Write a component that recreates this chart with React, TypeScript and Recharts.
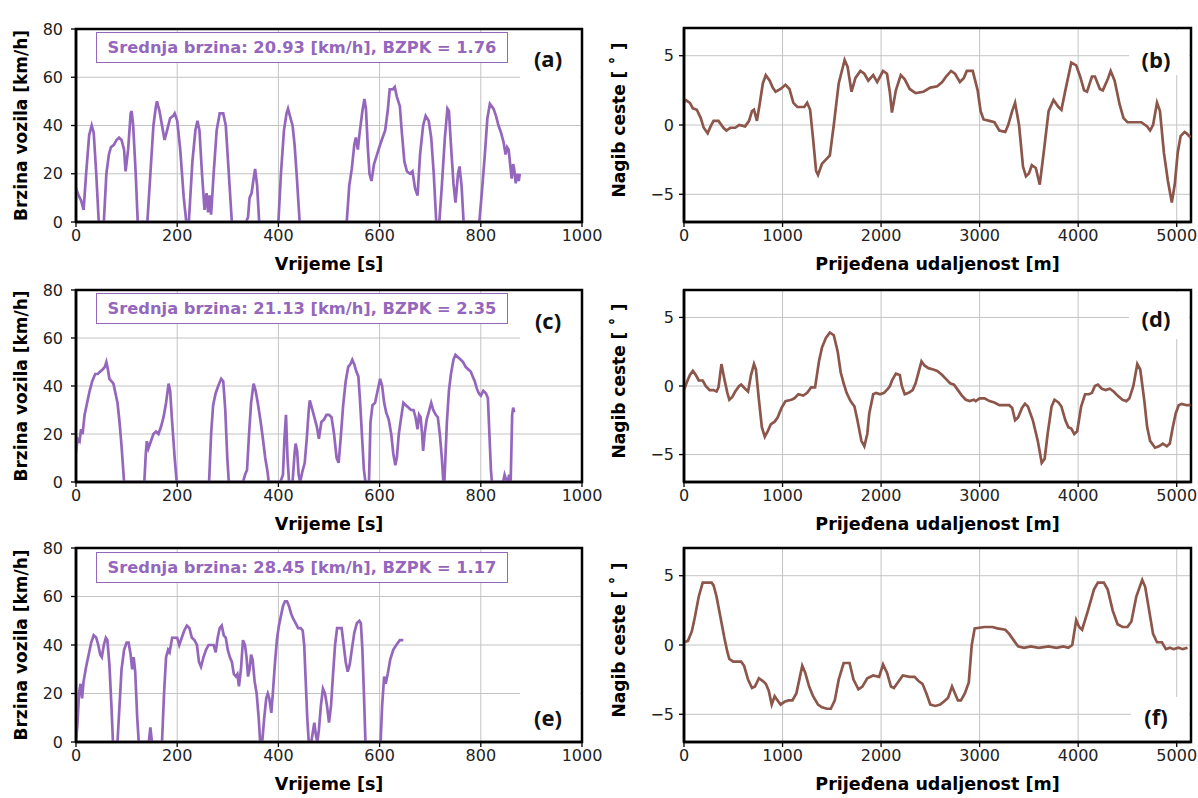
import React from 'react';
import { LineChart, Line, XAxis, YAxis, CartesianGrid, ReferenceArea } from 'recharts';

// ---------- (a) speed ----------
const timeA = [0,5,10,15,20,26,31,35,40,45,55,60,65,69,75,80,85,90,95,98,103,108,110,113,118,122,141,147,153,158,160,165,170,175,180,186,192,195,200,206,213,218,223,230,236,240,244,249,254,258,261,264,267,272,278,284,291,296,302,308,336,340,343,347,351,354,358,362,400,405,411,416,419,424,428,432,436,442,535,540,545,550,553,557,560,566,570,573,577,580,584,589,595,601,606,611,616,620,626,630,634,640,644,649,654,660,665,670,675,680,686,691,697,702,707,712,718,723,729,734,737,741,746,750,755,758,762,766,797,802,808,813,818,825,830,835,840,845,849,852,855,858,861,864,866,869,872,875,877];
const speedA = [14,11,9,5,20,36,40,37,20,0,0,20,28,31,32,34,35,34,30,21,30,45,46,40,20,0,0,20,40,48,50,46,40,34,38,43,44,45,42,30,10,0,0,25,38,42,38,20,5,12,4,11,3,20,38,45,45,40,20,0,0,2,10,12,18,22,15,0,0,20,38,45,47,43,40,32,20,0,0,15,22,32,35,30,36,46,51,47,30,20,17,24,28,32,35,38,46,55,55,56,52,48,37,25,21,20,21,14,11,28,40,44,42,35,20,0,0,15,35,47,46,32,16,8,20,23,15,0,0,12,28,43,49,47,44,40,37,33,28,31,30,24,18,24,22,16,20,17,20];

// ---------- (c) speed ----------
const timeC = [0,3,7,10,13,17,22,27,32,38,43,48,53,57,60,63,66,70,74,78,82,86,90,95,135,138,140,143,148,153,158,163,168,173,178,183,186,190,195,199,263,267,271,276,281,287,291,295,299,302,330,334,338,342,346,351,355,360,365,370,374,378,381,404,409,412,415,418,421,428,432,434,437,440,443,447,452,456,460,462,466,471,476,480,485,490,495,500,505,510,515,519,523,528,533,538,542,546,550,554,558,561,565,569,572,579,582,586,591,596,601,605,609,613,618,623,627,631,634,638,642,647,652,657,662,667,671,675,678,681,684,686,689,693,697,702,706,711,715,719,723,726,728,733,737,741,746,750,755,760,765,770,775,780,784,788,792,796,800,805,810,814,817,820,822,844,847,850,853,856,859,862,864,866];
const speedC = [12,18,17,22,20,28,33,38,42,45,45,46,47,48,50,47,43,42,41,37,33,25,15,0,0,12,17,14,17,20,21,20,23,27,33,41,38,25,10,0,0,20,32,37,40,43,42,30,10,0,0,3,5,20,33,41,38,32,25,17,10,5,0,0,3,18,28,10,0,0,12,16,13,3,0,4,8,18,30,34,31,27,23,18,25,26,28,28,27,20,10,8,18,32,42,48,49,51,49,46,44,35,20,5,0,0,25,32,33,38,43,40,33,29,26,20,12,7,10,20,26,33,32,31,30,30,27,22,28,27,20,13,20,26,29,33,30,28,27,20,10,0,0,25,38,45,51,53,52,51,50,48,47,46,44,42,39,37,36,38,37,35,20,5,0,0,3,1,0,3,0,28,31,29];

// ---------- (e) speed ----------
const timeE = [0,3,6,9,12,15,20,25,30,35,40,44,48,51,55,59,62,66,70,73,82,86,90,95,100,104,108,111,114,117,121,124,144,147,150,170,174,178,182,185,190,195,200,204,209,214,219,224,229,234,239,243,247,252,257,262,267,272,276,280,284,288,292,296,300,304,308,312,316,319,322,326,330,334,337,340,343,346,349,353,357,361,364,368,372,376,379,382,386,389,393,397,401,405,409,413,417,421,425,429,434,439,444,448,451,454,457,460,465,468,471,474,477,480,484,488,492,496,500,504,508,512,516,520,525,529,533,537,541,545,550,555,560,563,566,569,572,602,605,609,612,616,621,627,633,640,647];
const speedE = [0,8,20,24,18,25,31,36,41,44,43,40,36,35,40,43,42,32,15,0,0,15,30,38,41,41,36,30,35,29,10,0,0,6,0,0,20,35,38,37,43,43,43,40,43,46,48,47,43,42,40,33,31,35,38,40,40,40,37,43,47,48,44,43,38,35,33,28,27,28,23,30,42,40,35,27,30,36,34,25,20,10,0,0,10,18,20,18,12,20,32,42,48,52,56,58,58,56,53,51,49,47,47,46,40,25,10,0,0,4,8,3,0,5,15,22,20,15,8,15,28,40,47,47,47,40,33,29,32,38,45,49,50,49,38,20,0,0,15,27,24,28,34,38,40,42,42];

// ---------- (b) slope ----------
const distB = [0,20,60,90,130,170,200,240,270,300,350,400,430,470,520,560,620,660,690,710,740,770,800,830,870,900,930,980,1030,1070,1110,1150,1220,1250,1280,1310,1340,1360,1400,1440,1480,1520,1570,1630,1660,1700,1740,1790,1830,1870,1920,1960,1990,2020,2060,2090,2110,2150,2200,2240,2290,2350,2430,2500,2570,2620,2660,2710,2750,2800,2840,2870,2930,2980,3010,3040,3100,3150,3200,3260,3290,3330,3360,3400,3440,3470,3500,3530,3570,3610,3650,3700,3750,3800,3830,3870,3930,3980,4020,4060,4090,4140,4170,4220,4250,4300,4330,4370,4420,4460,4500,4640,4700,4730,4760,4800,4830,4870,4910,4950,4980,5010,5040,5080,5100,5140];
const slopeB = [1.6,1.8,1.6,1.2,1.1,0.5,-0.2,-0.6,-0.1,0.3,0.3,-0.2,-0.4,-0.2,-0.2,0.0,-0.1,0.3,1.0,1.1,0.3,1.6,3.0,3.6,3.2,2.7,2.4,2.6,2.9,2.6,1.6,1.3,1.3,1.6,1.1,-1.0,-3.3,-3.6,-2.8,-2.5,-2.2,0.0,3.0,4.7,4.2,2.4,3.4,3.9,3.7,3.2,3.6,3.1,3.5,3.9,3.7,2.3,0.9,2.5,3.6,3.3,2.6,2.3,2.4,2.7,2.8,3.1,3.5,3.9,3.7,3.1,3.4,3.9,3.9,2.5,1.0,0.4,0.3,0.2,-0.4,-0.5,0.0,1.0,1.6,0.0,-3.0,-3.7,-3.5,-2.9,-3.1,-4.3,-2.0,1.0,1.8,1.3,1.1,2.5,4.5,4.3,3.5,2.5,2.4,3.5,3.5,2.6,2.5,3.3,3.9,3.2,1.5,0.5,0.2,0.2,-0.1,-0.4,0.0,1.6,1.0,-2.0,-4.0,-5.6,-4.3,-2.0,-0.8,-0.5,-0.6,-0.9];

// ---------- (d) slope ----------
const distD = [0,30,60,90,120,150,190,220,260,300,330,350,380,410,440,460,490,520,560,580,620,650,680,710,730,760,790,820,850,880,920,950,990,1030,1090,1120,1160,1210,1250,1290,1330,1370,1400,1440,1480,1520,1560,1590,1620,1650,1690,1730,1760,1800,1830,1860,1880,1920,1950,1990,2030,2070,2090,2110,2150,2190,2210,2240,2280,2320,2350,2380,2410,2440,2480,2530,2570,2620,2660,2700,2740,2780,2820,2860,2900,2940,2960,3000,3050,3100,3150,3200,3250,3300,3330,3360,3390,3430,3460,3490,3540,3590,3630,3660,3690,3730,3760,3800,3830,3870,3900,3930,3960,3990,4030,4070,4110,4140,4170,4200,4240,4280,4320,4360,4400,4450,4490,4520,4560,4600,4630,4670,4700,4730,4780,4820,4860,4900,4930,4960,4990,5020,5050,5100,5140];
const slopeD = [-0.3,0.3,0.8,1.1,0.8,0.4,0.4,0.0,-0.3,-0.3,-0.4,-0.1,1.6,0.5,-0.5,-1.0,-0.8,-0.4,0.0,0.1,-0.2,-0.4,0.8,1.6,1.2,-1.0,-3.0,-3.7,-3.3,-2.8,-2.6,-2.3,-1.6,-1.1,-1.0,-0.9,-0.6,-0.7,-0.5,-0.1,-0.1,1.8,2.8,3.5,3.9,3.7,2.5,1.0,0.2,-0.5,-1.1,-1.5,-2.5,-4.0,-4.4,-3.5,-2.0,-0.6,-0.5,-0.6,-0.5,-0.2,0.0,0.4,0.9,0.8,0.0,-0.6,-0.5,-0.3,0.2,1.0,1.8,1.5,1.3,1.2,1.1,0.8,0.5,0.2,0.1,-0.3,-0.7,-1.0,-1.1,-1.0,-1.1,-0.9,-0.9,-1.1,-1.2,-1.4,-1.4,-1.4,-1.6,-2.5,-2.3,-1.6,-1.3,-1.5,-2.5,-4.0,-5.6,-5.3,-3.5,-1.5,-1.0,-1.2,-1.5,-2.5,-3.0,-3.1,-3.5,-3.3,-1.5,-0.6,-0.6,-0.5,0.0,0.1,-0.2,-0.3,-0.2,-0.4,-0.7,-1.0,-1.1,-0.9,0.0,1.6,1.2,-1.0,-3.0,-4.0,-4.5,-4.4,-4.2,-4.4,-4.2,-3.0,-2.0,-1.4,-1.3,-1.4,-1.4];

// ---------- (f) slope ----------
const distF = [0,40,80,110,150,190,280,300,330,370,410,440,460,500,580,610,650,690,720,760,800,830,860,890,920,950,980,1020,1060,1100,1140,1170,1200,1230,1270,1310,1360,1400,1450,1490,1530,1570,1620,1680,1720,1770,1810,1860,1920,1980,2020,2060,2100,2130,2170,2220,2290,2340,2380,2420,2460,2500,2550,2600,2650,2680,2720,2750,2780,2810,2850,2890,2920,2950,3050,3130,3180,3260,3300,3350,3390,3450,3520,3600,3700,3780,3850,3900,3940,3980,4010,4040,4100,4160,4200,4260,4300,4350,4400,4450,4500,4540,4590,4650,4680,4720,4760,4800,4850,4890,4930,4970,5020,5060,5110];
const slopeF = [0.2,0.3,1.0,2.0,3.5,4.5,4.5,4.3,3.5,2.0,0.5,-0.5,-1.0,-1.2,-1.2,-1.5,-2.5,-3.1,-3.0,-2.4,-2.6,-2.8,-3.3,-4.3,-3.7,-4.0,-4.3,-4.1,-4.0,-4.0,-3.5,-2.5,-1.5,-2.0,-3.0,-3.7,-4.3,-4.5,-4.6,-4.6,-4.0,-2.5,-1.3,-1.3,-2.5,-3.2,-3.0,-2.4,-2.2,-2.3,-1.4,-2.0,-3.0,-3.1,-2.7,-2.2,-2.3,-2.3,-2.6,-2.8,-3.5,-4.3,-4.4,-4.3,-4.0,-3.8,-3.0,-3.5,-4.0,-4.0,-3.5,-2.7,0.0,1.2,1.3,1.3,1.2,1.1,0.8,0.3,-0.1,-0.2,-0.1,-0.2,-0.1,-0.2,-0.1,-0.2,0.0,1.8,1.3,1.1,2.5,4.0,4.5,4.5,4.0,2.5,1.5,1.3,1.3,1.7,3.5,4.7,4.2,2.5,0.8,0.2,0.2,-0.3,-0.2,-0.3,-0.2,-0.3,-0.2];

// ---------- axes / texts ----------
const speedXTicks = [0, 200, 400, 600, 800, 1000];
const speedYTicks = [0, 20, 40, 60, 80];
const slopeXTicks = [0, 1000, 2000, 3000, 4000, 5000];
const slopeYTicks = [-5, 0, 5];
const speedXTitle = 'Vrijeme [s]';
const speedYTitle = 'Brzina vozila [km/h]';
const slopeXTitle = 'Prijeđena udaljenost [m]';
const slopeYTitle = 'Nagib ceste [ ˚ ]';
const infoA = 'Srednja brzina: 20.93 [km/h], BZPK = 1.76';
const infoC = 'Srednja brzina: 21.13 [km/h], BZPK = 2.35';
const infoE = 'Srednja brzina: 28.45 [km/h], BZPK = 1.17';

const PURPLE = '#9467bd';
const BROWN = '#8c564b';
const FONT = '"DejaVu Sans", sans-serif';

interface PanelProps {
  left: number;
  plotTop: number;
  plotH: number;
  width: number;
  yAxisW: number;
  rightM: number;
  xs: number[];
  ys: number[];
  color: string;
  xDomain: [number, number];
  xTicks: number[];
  yDomain: [number, number];
  yTicks: number[];
  xTitle: string;
  yTitle: string;
  yTitleX: number;
  yTitleDy: number;
  yTickMargin: number;
}

const fmt = (v: number) => (v < 0 ? '\u2212' + Math.abs(v) : String(v));

function Panel(p: PanelProps) {
  const data = p.xs.map((x, i) => ({ x, y: p.ys[i] }));
  const h = 10 + p.plotH + 55;
  const plotW = p.width - p.yAxisW - p.rightM;
  const tickStyle = { fontSize: 16, fill: '#222', fontFamily: FONT };
  const xTitleEl = () => (
    <text x={p.yAxisW + plotW / 2} y={10 + p.plotH + 48} textAnchor="middle" fontFamily={FONT} fontWeight={700} fontSize={17.5} fill="#000">
      {p.xTitle}
    </text>
  );
  const cy = 10 + p.plotH / 2 + p.yTitleDy;
  const yTitleEl = () => (
    <text x={p.yTitleX} y={cy} transform={`rotate(-90 ${p.yTitleX} ${cy})`} textAnchor="middle" fontFamily={FONT} fontWeight={700} fontSize={17} fill="#000">
      {p.yTitle}
    </text>
  );
  return (
    <div style={{ position: 'absolute', left: p.left, top: p.plotTop - 10 }}>
      <LineChart width={p.width} height={h} data={data} margin={{ top: 10, right: p.rightM, bottom: 0, left: 0 }}>
        <CartesianGrid stroke="#c4c4c4" strokeWidth={1} />
        <XAxis
          dataKey="x"
          type="number"
          domain={p.xDomain}
          ticks={p.xTicks}
          interval={0}
          allowDataOverflow
          height={55}
          tick={tickStyle}
          tickLine={{ stroke: '#000', strokeWidth: 1.3 }}
          tickSize={5}
          tickMargin={3}
          axisLine={{ stroke: '#000', strokeWidth: 2.5 }}
          tickFormatter={fmt}
          label={xTitleEl}
        />
        <YAxis
          type="number"
          domain={p.yDomain}
          ticks={p.yTicks}
          interval={0}
          allowDataOverflow
          width={p.yAxisW}
          tick={tickStyle}
          tickLine={{ stroke: '#000', strokeWidth: 1.3 }}
          tickSize={5}
          tickMargin={p.yTickMargin}
          axisLine={{ stroke: '#000', strokeWidth: 2.5 }}
          tickFormatter={fmt}
          label={yTitleEl}
        />
        <Line type="linear" dataKey="y" stroke={p.color} strokeWidth={2.7} dot={false} isAnimationActive={false} />
        <ReferenceArea x1={p.xDomain[0]} x2={p.xDomain[1]} y1={p.yDomain[0]} y2={p.yDomain[1]} fill="none" fillOpacity={0} stroke="#000" strokeWidth={2.5} />
      </LineChart>
    </div>
  );
}

const WhiteBox = ({ l, t, w, h }: { l: number; t: number; w: number; h: number }) => (
  <div style={{ position: 'absolute', left: l, top: t, width: w, height: h, background: '#fff' }} />
);

const Letter = ({ text, cx, cy }: { text: string; cx: number; cy: number }) => (
  <div
    style={{
      position: 'absolute',
      left: cx,
      top: cy,
      transform: 'translate(-50%, -50%)',
      fontFamily: '"Open Sans", sans-serif',
      fontWeight: 700,
      fontSize: 22,
      lineHeight: 1,
      color: '#111',
      whiteSpace: 'nowrap',
    }}
  >
    {text}
  </div>
);

const InfoBox = ({ text, top }: { text: string; top: number }) => (
  <div
    style={{
      position: 'absolute',
      left: 96,
      top,
      width: 412,
      height: 31,
      boxSizing: 'border-box',
      border: `1.5px solid ${PURPLE}`,
      background: '#fff',
      display: 'flex',
      alignItems: 'center',
      justifyContent: 'center',
      fontFamily: FONT,
      fontWeight: 700,
      fontSize: 16.3,
      color: PURPLE,
      whiteSpace: 'nowrap',
    }}
  >
    {text}
  </div>
);

const leftCol = { left: 0, width: 620, yAxisW: 76, rightM: 38, yTitleX: 27, yTitleDy: 0, yTickMargin: 8 };
const rightCol = { left: 600, width: 598, yAxisW: 84, rightM: 7, yTitleX: 25, yTitleDy: -5, yTickMargin: 5 };

export default function App() {
  return (
    <div style={{ position: 'absolute', left: 0, top: 0, width: 1198, height: 798, background: '#fff', overflow: 'hidden' }}>
      <Panel {...leftCol} plotTop={29} plotH={193} xs={timeA} ys={speedA} color={PURPLE} xDomain={[0, 1000]} xTicks={speedXTicks} yDomain={[0, 80]} yTicks={speedYTicks} xTitle={speedXTitle} yTitle={speedYTitle} />
      <Panel {...leftCol} plotTop={290} plotH={192} xs={timeC} ys={speedC} color={PURPLE} xDomain={[0, 1000]} xTicks={speedXTicks} yDomain={[0, 80]} yTicks={speedYTicks} xTitle={speedXTitle} yTitle={speedYTitle} />
      <Panel {...leftCol} plotTop={548} plotH={194} xs={timeE} ys={speedE} color={PURPLE} xDomain={[0, 1000]} xTicks={speedXTicks} yDomain={[0, 80]} yTicks={speedYTicks} xTitle={speedXTitle} yTitle={speedYTitle} />
      <Panel {...rightCol} plotTop={28} plotH={194} xs={distB} ys={slopeB} color={BROWN} xDomain={[0, 5145]} xTicks={slopeXTicks} yDomain={[-7, 7]} yTicks={slopeYTicks} xTitle={slopeXTitle} yTitle={slopeYTitle} />
      <Panel {...rightCol} plotTop={290} plotH={192} xs={distD} ys={slopeD} color={BROWN} xDomain={[0, 5145]} xTicks={slopeXTicks} yDomain={[-7, 7]} yTicks={slopeYTicks} xTitle={slopeXTitle} yTitle={slopeYTitle} />
      <Panel {...rightCol} plotTop={548} plotH={194} xs={distF} ys={slopeF} color={BROWN} xDomain={[0, 5145]} xTicks={slopeXTicks} yDomain={[-7, 7]} yTicks={slopeYTicks} xTitle={slopeXTitle} yTitle={slopeYTitle} />

      <WhiteBox l={520} t={31} w={60} h={62} />
      <WhiteBox l={1129} t={30} w={60} h={45} />
      <WhiteBox l={520} t={292} w={60} h={58} />
      <WhiteBox l={1129} t={292} w={60} h={47} />
      <WhiteBox l={520} t={672} w={60} h={68} />
      <WhiteBox l={1131} t={697} w={58} h={43} />

      <InfoBox text={infoA} top={32} />
      <InfoBox text={infoC} top={293} />
      <InfoBox text={infoE} top={552} />

      <Letter text="(a)" cx={548} cy={58} />
      <Letter text="(b)" cx={1156} cy={59} />
      <Letter text="(c)" cx={548} cy={320} />
      <Letter text="(d)" cx={1156} cy={318} />
      <Letter text="(e)" cx={548} cy={717} />
      <Letter text="(f)" cx={1156} cy={716} />
    </div>
  );
}
